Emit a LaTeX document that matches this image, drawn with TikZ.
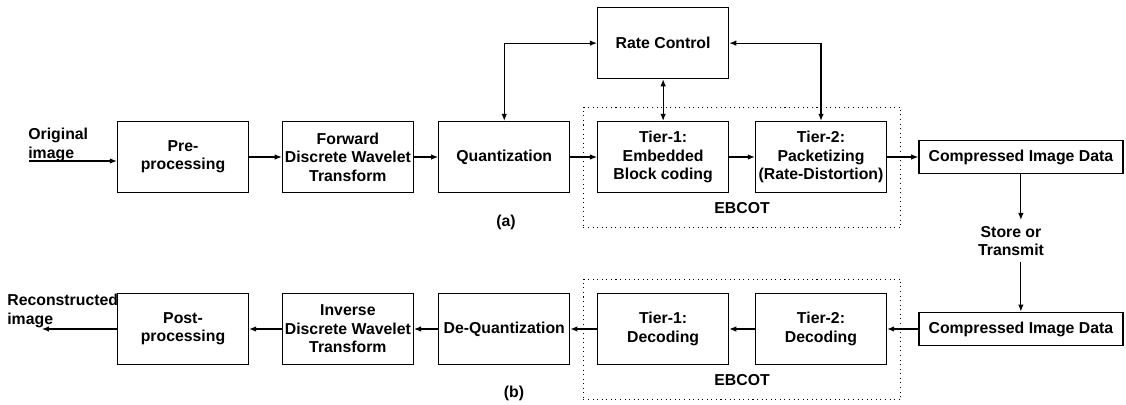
\documentclass[tikz,border=0pt]{standalone}
\usepackage{fontspec}
\setmainfont{Liberation Sans}
\usetikzlibrary{arrows.meta,positioning,fit,calc}

\begin{document}
\begin{tikzpicture}[
  x=0.02cm, y=-0.02cm,
  font=\fontsize{9}{10.5}\selectfont\bfseries,
  >={Latex[length=1.4mm,width=1.1mm]},
  stage/.style={
    draw,
    line width=0.8pt,
    align=center,
    minimum width=26.2mm,
    minimum height=14.2mm,
    inner sep=0.5pt
  },
  store/.style={
    draw,
    line width=0.8pt,
    minimum width=40.8mm,
    minimum height=6.7mm,
    inner sep=1pt
  },
  group/.style={draw,dotted,line width=0.6pt,inner sep=2.7mm},
  flow/.style={->,line width=0.6pt},
  twoway/.style={<->,line width=0.6pt}
]
\useasboundingbox (0,0) rectangle (1126,405);
\node[stage] (pre) at (183,157) {Pre-\\processing};
\node[stage,right=6.5mm of pre] (fdwt) {Forward\\Discrete Wavelet\\Transform};
\node[stage,right=4.8mm of fdwt] (quant) {Quantization};
\node[stage,right=5.3mm of quant] (tier1) {Tier-1:\\Embedded\\Block coding};
\node[stage,right=5.1mm of tier1] (tier2) {Tier-2:\\Packetizing\\(Rate-Distortion)};
\node[store,right=6.2mm of tier2] (cid) {Compressed Image Data};
\node[stage,above=8.3mm of tier1] (rate) {Rate Control};
\node[inner sep=0pt] (ebcot) at ($(tier1.south)!0.5!(tier2.south)+(0,15)$) {EBCOT};
\node[group,fit=(tier1)(tier2)(ebcot)] (ebcotbox) {};
\node[align=left,inner sep=0pt,anchor=west] (orig) at (28,145) {Original\\image};
\coordinate (origin) at (29,161);
\node (parta) at (506,222) {(a)};
\node[align=center] (send) at (1011,241) {Store or\\Transmit};
\node[stage] (post) at (183,329) {Post-\\processing};
\node[stage,right=6.5mm of post] (idwt) {Inverse\\Discrete Wavelet\\Transform};
\node[stage,right=4.8mm of idwt] (dequant) {De-Quantization};
\node[stage,right=5.3mm of dequant] (dec1) {Tier-1:\\Decoding};
\node[stage,right=5.1mm of dec1] (dec2) {Tier-2:\\Decoding};
\node[store,right=6.2mm of dec2] (cid2) {Compressed Image Data};
\node[inner sep=0pt] (debcot) at ($(dec1.south)!0.5!(dec2.south)+(0,15)$) {EBCOT};
\node[group,fit=(dec1)(dec2)(debcot)] (debcotbox) {};
\node[align=left,inner sep=0pt,anchor=west] (recon) at (7,311) {Reconstructed\\image};
\coordinate (reconout) at (42,329);
\node (partb) at (514,393) {(b)};
\draw[flow] (origin) -- (origin -| pre.west);
\draw[flow] (pre) -- (fdwt);
\draw[flow] (fdwt) -- (quant);
\draw[flow] (quant) -- (tier1);
\draw[flow] (tier1) -- (tier2);
\draw[flow] (tier2) -- (cid);
\draw[twoway] (quant.north) |- (rate.west);
\draw[twoway] (rate.south) -- (tier1.north);
\draw[twoway] (rate.east) -| (tier2.north);
\draw[flow] (cid.south) -- (cid.south |- send.north);
\draw[flow] (send.south -| cid2.north) -- (cid2.north);
\draw[flow] (cid2) -- (dec2);
\draw[flow] (dec2) -- (dec1);
\draw[flow] (dec1) -- (dequant);
\draw[flow] (dequant) -- (idwt);
\draw[flow] (idwt) -- (post);
\draw[flow] (post.west) -- (reconout);
\end{tikzpicture}
\end{document}
